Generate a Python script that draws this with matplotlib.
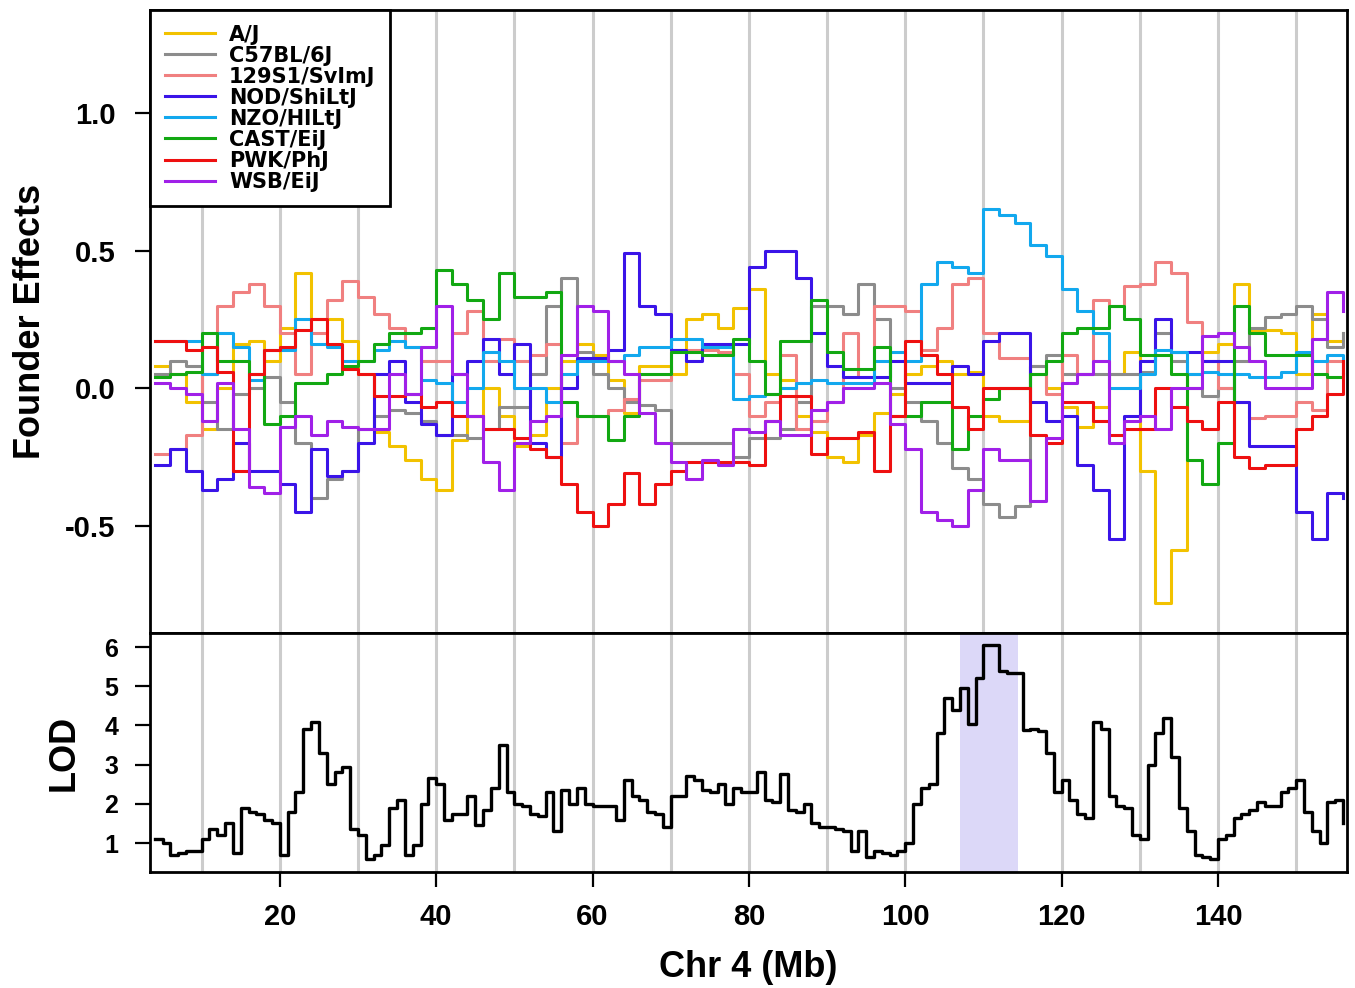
import matplotlib
matplotlib.use("Agg")
import matplotlib.pyplot as plt

plt.rcParams['font.family'] = ['Liberation Sans', 'DejaVu Sans']
plt.rcParams['font.weight'] = 'bold'

# founder coefficients, sampled every 2 Mb along chromosome 4
founder_mb = list(range(4, 157, 2))

strains = ['A/J', 'C57BL/6J', '129S1/SvImJ', 'NOD/ShiLtJ',
           'NZO/HlLtJ', 'CAST/EiJ', 'PWK/PhJ', 'WSB/EiJ']
strain_colors = ['#F2C200', '#8C8C8C', '#F08080', '#3A14E8',
                 '#12A8EE', '#12A812', '#EE1010', '#A020E8']

aj = [0.08, 0.05, -0.05, -0.15, 0.0, 0.16, 0.17, 0.1, 0.22, 0.42,
      0.25, 0.25, 0.17, 0.05, -0.16, -0.21, -0.26, -0.33, -0.37, -0.19,
      -0.1, 0.0, -0.1, -0.21, -0.17, 0.0, 0.1, 0.16, 0.12, 0.03,
      -0.09, 0.08, 0.08, 0.05, 0.25, 0.27, 0.22, 0.29, 0.36, 0.05,
      0.03, -0.1, -0.16, -0.25, -0.27, -0.17, -0.09, -0.02, 0.05, 0.08,
      0.1, 0.05, 0.06, -0.1, -0.12, -0.12, 0.08, 0.0, -0.07, -0.14,
      -0.07, 0.05, 0.13, -0.3, -0.78, -0.59, 0.05, 0.13, 0.16, 0.38,
      0.21, 0.21, 0.2, 0.05, 0.27, 0.17, 0.2]
b6 = [0.05, 0.1, 0.08, -0.05, -0.15, -0.02, 0.0, 0.04, -0.05, -0.2,
      -0.4, -0.33, -0.3, -0.15, -0.1, -0.08, -0.09, -0.12, -0.17, -0.17,
      -0.18, -0.15, -0.07, -0.07, 0.05, 0.3, 0.4, 0.13, 0.05, 0.0,
      -0.05, -0.06, -0.08, -0.2, -0.2, -0.2, -0.2, -0.25, -0.18, -0.18,
      -0.15, -0.05, 0.3, 0.3, 0.27, 0.38, 0.25, 0.0, -0.05, -0.12,
      -0.2, -0.29, -0.33, -0.42, -0.47, -0.43, 0.08, 0.12, 0.05, 0.05,
      0.05, 0.05, 0.05, 0.06, 0.2, 0.1, 0.0, -0.03, 0.0, 0.1,
      0.22, 0.26, 0.27, 0.3, 0.25, 0.15, 0.2]
s129 = [-0.24, -0.22, -0.17, 0.05, 0.3, 0.35, 0.38, 0.3, 0.2, 0.05,
        0.2, 0.32, 0.39, 0.33, 0.27, 0.22, 0.15, 0.1, 0.1, 0.2,
        0.28, 0.1, 0.18, 0.1, 0.12, 0.16, -0.2, -0.1, -0.1, -0.08,
        -0.04, 0.03, 0.03, 0.14, 0.14, 0.14, 0.13, 0.05, -0.1, -0.05,
        0.12, -0.15, -0.12, -0.05, 0.2, 0.04, 0.3, 0.3, 0.28, 0.14,
        0.22, 0.38, 0.4, 0.2, 0.11, 0.11, 0.05, -0.02, 0.12, 0.05,
        0.32, 0.3, 0.37, 0.38, 0.46, 0.42, 0.24, 0.1, 0.0, -0.05,
        -0.11, -0.1, -0.1, -0.05, -0.08, 0.1, 0.05]
nod = [-0.28, -0.22, -0.3, -0.37, -0.33, -0.2, -0.3, -0.3, -0.35, -0.45,
       -0.22, -0.32, -0.3, -0.2, 0.05, 0.1, -0.05, -0.13, -0.17, 0.05,
       0.1, 0.18, 0.05, 0.16, -0.2, -0.25, 0.0, 0.11, 0.11, 0.14,
       0.49, 0.3, 0.27, 0.14, 0.1, 0.16, 0.16, 0.16, 0.44, 0.5,
       0.5, 0.4, 0.2, 0.08, 0.04, 0.04, 0.04, 0.1, 0.02, 0.02,
       0.02, 0.08, 0.05, 0.17, 0.2, 0.2, -0.05, -0.12, -0.1, -0.28,
       -0.37, -0.55, -0.1, 0.1, 0.25, 0.13, 0.13, 0.1, 0.1, -0.05,
       -0.21, -0.21, -0.21, -0.45, -0.55, -0.38, -0.4]
nzo = [0.17, 0.17, 0.17, 0.05, 0.2, 0.15, 0.03, 0.14, 0.14, 0.25,
       0.16, 0.15, 0.1, 0.1, 0.14, 0.17, 0.15, 0.03, 0.02, -0.05,
       0.0, 0.13, 0.1, 0.0, 0.0, -0.05, 0.05, 0.1, 0.1, 0.1,
       0.12, 0.15, 0.15, 0.18, 0.18, 0.15, 0.15, -0.04, -0.03, -0.02,
       0.0, 0.02, 0.03, 0.02, 0.02, 0.02, 0.1, 0.13, 0.1, 0.38,
       0.46, 0.44, 0.42, 0.65, 0.63, 0.6, 0.52, 0.48, 0.36, 0.28,
       0.2, 0.0, 0.0, 0.05, 0.14, 0.13, 0.05, 0.06, 0.05, 0.05,
       0.04, 0.04, 0.06, 0.13, 0.1, 0.12, 0.06]
cast = [0.04, 0.05, 0.06, 0.2, 0.1, 0.1, 0.05, -0.13, -0.1, 0.02,
        0.02, 0.05, 0.08, 0.1, 0.16, 0.2, 0.2, 0.22, 0.43, 0.38,
        0.32, 0.25, 0.42, 0.33, 0.33, 0.35, -0.05, -0.1, -0.1, -0.19,
        -0.1, 0.05, 0.05, 0.13, 0.13, 0.12, 0.12, 0.18, 0.1, -0.02,
        0.17, 0.17, 0.32, 0.13, 0.07, 0.07, 0.15, -0.1, -0.1, -0.05,
        -0.05, -0.22, -0.1, -0.04, 0.0, 0.0, 0.05, 0.1, 0.2, 0.22,
        0.22, 0.3, 0.25, 0.12, 0.12, 0.05, -0.26, -0.35, -0.2, 0.3,
        0.2, 0.12, 0.12, 0.12, 0.05, 0.04, 0.05]
pwk = [0.17, 0.17, 0.14, 0.15, 0.06, -0.3, 0.05, 0.14, 0.15, 0.21,
       0.25, 0.16, 0.07, 0.05, -0.03, -0.03, -0.02, -0.07, -0.05, -0.1,
       -0.1, -0.15, -0.15, -0.18, -0.22, -0.25, -0.35, -0.45, -0.5, -0.42,
       -0.31, -0.42, -0.35, -0.3, -0.27, -0.27, -0.27, -0.27, -0.28, -0.12,
       -0.03, -0.03, -0.24, -0.18, -0.18, -0.16, -0.3, -0.1, 0.17, 0.12,
       0.05, -0.07, -0.15, 0.0, 0.0, 0.0, -0.17, -0.2, -0.05, -0.05,
       -0.12, -0.17, -0.15, -0.15, 0.0, -0.07, -0.12, -0.15, -0.05, -0.25,
       -0.29, -0.28, -0.28, -0.15, -0.1, -0.02, 0.1]
wsb = [0.02, 0.0, -0.02, -0.12, 0.02, -0.15, -0.36, -0.38, -0.14, -0.1,
       -0.17, -0.12, -0.14, -0.15, -0.15, 0.05, -0.02, 0.15, 0.3, 0.05,
       -0.1, -0.27, -0.37, -0.2, -0.12, -0.1, 0.12, 0.3, 0.28, 0.1,
       0.05, -0.09, -0.2, -0.27, -0.33, -0.26, -0.28, -0.15, -0.16, -0.12,
       -0.17, -0.17, -0.08, -0.05, 0.0, 0.0, 0.02, -0.13, -0.22, -0.45,
       -0.48, -0.5, -0.37, -0.22, -0.26, -0.26, -0.41, -0.18, 0.02, 0.05,
       0.1, -0.2, -0.12, -0.1, -0.15, 0.0, 0.0, 0.19, 0.2, 0.15,
       0.1, 0.0, 0.0, 0.0, 0.18, 0.35, 0.28]

# LOD profile, 1 Mb steps
lod_mb = list(range(4, 157))
lod = [1.1, 1.0, 0.7, 0.75, 0.8, 0.8, 1.1, 1.35, 1.2, 1.5,
       0.75, 1.9, 1.8, 1.75, 1.6, 1.5, 0.7, 1.8, 2.3, 3.9,
       4.1, 3.3, 2.5, 2.8, 2.95, 1.35, 1.2, 0.6, 0.7, 0.95,
       1.9, 2.1, 0.7, 0.95, 2.0, 2.65, 2.5, 1.6, 1.75, 1.75,
       2.2, 1.45, 1.85, 2.4, 3.5, 2.3, 2.0, 1.95, 1.75, 1.7,
       2.3, 1.3, 2.35, 2.0, 2.4, 2.0, 1.95, 1.95, 1.95, 1.6,
       2.6, 2.2, 2.1, 1.8, 1.75, 1.4, 2.2, 2.2, 2.7, 2.6,
       2.35, 2.3, 2.5, 2.0, 2.4, 2.3, 2.3, 2.8, 2.1, 2.05,
       2.75, 1.85, 1.8, 2.0, 1.5, 1.4, 1.4, 1.35, 1.3, 0.8,
       1.3, 0.65, 0.8, 0.75, 0.7, 0.8, 1.0, 2.0, 2.4, 2.5,
       3.8, 4.7, 4.4, 4.95, 4.05, 5.2, 6.05, 6.05, 5.4, 5.33,
       5.33, 3.88, 3.9, 3.85, 3.3, 2.3, 2.6, 2.1, 1.75, 1.65,
       4.1, 3.9, 2.2, 1.95, 1.9, 1.2, 1.1, 3.0, 3.8, 4.2,
       3.2, 1.9, 1.3, 0.7, 0.65, 0.6, 1.1, 1.2, 1.65, 1.75,
       1.85, 2.05, 1.95, 1.95, 2.3, 2.4, 2.6, 1.8, 1.3, 1.0,
       2.05, 2.1, 1.5]

support_interval = (107.0, 114.4)
grid_mb = list(range(10, 151, 10))

fig = plt.figure(figsize=(13.55, 9.88), dpi=100)
ax1 = fig.add_axes([0.1107, 0.3593, 0.8834, 0.6306])
ax2 = fig.add_axes([0.1107, 0.1174, 0.8834, 0.2419], sharex=ax1)

for ax in (ax1, ax2):
    for g in grid_mb:
        ax.axvline(g, color='#CCCCCC', lw=2.2, zorder=0)
    for s in ax.spines.values():
        s.set_linewidth(2.0)
    ax.tick_params(width=1.6, length=11)

series = [aj, b6, s129, nod, nzo, cast, pwk, wsb]
for name, col, vals in zip(strains, strain_colors, series):
    ax1.step(founder_mb, vals, where='post', color=col, lw=2.2, label=name)

ax1.set_xlim(3.4, 156.5)
ax1.set_ylim(-0.89, 1.375)
ax1.set_yticks([-0.5, 0.0, 0.5, 1.0])
ax1.set_yticklabels(['-0.5', '0.0', '0.5', '1.0'])
ax1.tick_params(axis='y', labelsize=21, pad=14)
ax1.tick_params(axis='x', bottom=False, labelbottom=False)
ax1.set_ylabel('Founder Effects', fontsize=26, fontweight='bold', labelpad=12)

leg = ax1.legend(loc='upper left', bbox_to_anchor=(0.0, 1.0), borderaxespad=0,
                 fancybox=False, framealpha=1, edgecolor='black',
                 prop={'family': 'DejaVu Sans', 'weight': 'bold', 'size': 15},
                 handlelength=2.4, handletextpad=0.7, labelspacing=0.05,
                 borderpad=0.7)
leg.get_frame().set_linewidth(2.0)

ax2.axvspan(*support_interval, color='#DCD8F8', zorder=0.5, lw=0)
ax2.step(lod_mb, lod, where='post', color='black', lw=2.4)
ax2.set_ylim(0.26, 6.36)
ax2.set_yticks([1, 2, 3, 4, 5, 6])
ax2.set_xticks([20, 40, 60, 80, 100, 120, 140])
ax2.tick_params(axis='y', labelsize=18, pad=12)
ax2.tick_params(axis='x', labelsize=21, pad=11)
ax2.set_ylabel('LOD', fontsize=26, fontweight='bold', labelpad=16)
ax2.set_xlabel('Chr 4 (Mb)', fontsize=26, fontweight='bold', labelpad=14)

for lab in ax1.get_yticklabels() + ax2.get_yticklabels() + ax2.get_xticklabels():
    lab.set_fontweight('bold')

fig.savefig('out.png', dpi=100)
